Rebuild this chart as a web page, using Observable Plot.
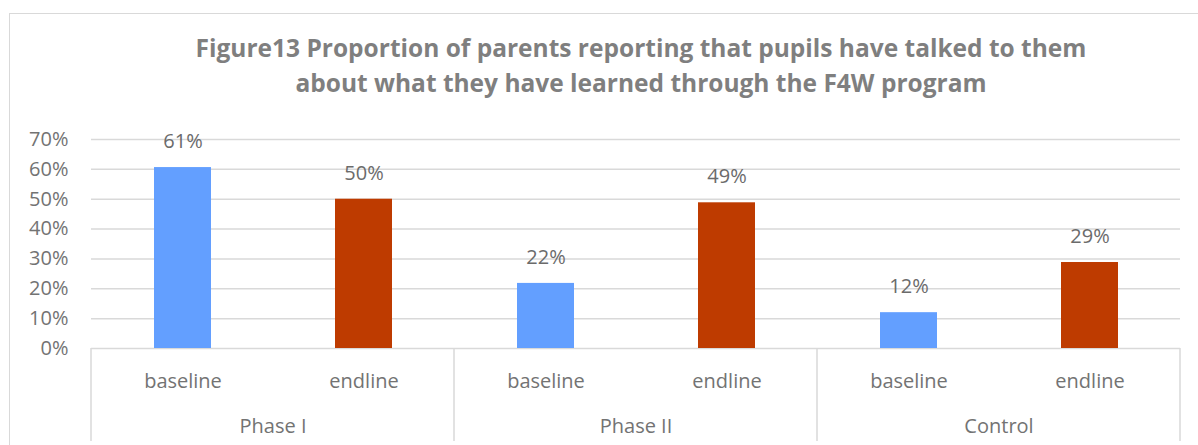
<!DOCTYPE html>
<html><head><meta charset="utf-8">
<script src="https://cdn.jsdelivr.net/npm/d3@7"></script>
<script src="https://cdn.jsdelivr.net/npm/@observablehq/plot@0.6"></script>
<style>
body{margin:0;background:#fff;}
#chart{position:relative;width:1198px;height:445px;overflow:hidden;font-family:"Open Sans",sans-serif;background:#fff;}
#border{position:absolute;left:9px;top:13px;width:1400px;height:600px;border:1.5px solid #d9d9d9;box-sizing:border-box;}
#title{position:absolute;left:0;width:1282px;top:30px;text-align:center;font-weight:700;font-size:24.5px;line-height:35px;color:#7f7f7f;}
#plot{position:absolute;left:0;top:0;}
</style>
</head><body>
<div id="chart"><div id="border"></div><div id="plot"></div>
<div id="title">Figure13 Proportion of parents reporting that pupils have talked to them<br>about what they have learned through the F4W program</div>
</div>
<script>
const groups = ["Phase I", "Phase II", "Control"];
const stages = ["baseline", "endline"];
const baselineValues = [0.606, 0.218, 0.12];
const endlineValues = [0.50, 0.488, 0.288];
const yTicks = [0, 0.1, 0.2, 0.3, 0.4, 0.5, 0.6, 0.7];
const stageColors = ["#639FFF", "#BE3B00"];

const data = [];
groups.forEach((g, i) => {
  data.push({group: g, stage: stages[0], value: baselineValues[i]});
  data.push({group: g, stage: stages[1], value: endlineValues[i]});
});
const pct = d3.format(".0%");

const plot = Plot.plot({
  width: 1198, height: 445,
  marginTop: 139, marginBottom: 97, marginLeft: 91, marginRight: 18,
  style: {fontFamily: "Open Sans", fontSize: "20px", color: "#737373", background: "transparent", overflow: "visible"},
  fx: {domain: groups, padding: 0, label: null},
  x: {domain: stages, paddingInner: 0.686, paddingOuter: 0.343, label: null},
  y: {domain: [0, 0.7], label: null},
  color: {domain: stages, range: stageColors},
  marks: [
    Plot.gridY(yTicks, {stroke: "#d9d9d9", strokeOpacity: 1, strokeWidth: 1.5}),
    Plot.barY(data, {fx: "group", x: "stage", y: "value", fill: "stage"}),
    Plot.text(data, {fx: "group", x: "stage", y: "value", text: d => pct(d.value), dy: -26, lineAnchor: "middle", fill: "#6b6b6b", fontSize: 20}),
    Plot.axisY({ticks: yTicks, tickFormat: pct, tickSize: 0, tickPadding: 23, fontSize: 20, label: null}),
    Plot.axisX({tickSize: 0, tickPadding: 25, fontSize: 20, label: null}),
    Plot.axisFx({anchor: "bottom", tickSize: 0, tickPadding: 70, fontSize: 20, label: null})
  ]
});
document.getElementById("plot").appendChild(plot);

// group separators, positioned from the fx scale
const fx = plot.scale("fx");
const y = plot.scale("y");
if (fx && fx.apply) {
  const svg = d3.select(plot.tagName.toLowerCase() === "svg" ? plot : plot.querySelector("svg"));
  const bw = fx.bandwidth;
  const xs = groups.map(g => fx.apply(g));
  xs.push(fx.apply(groups[groups.length - 1]) + bw);
  const y0 = y.apply(0);
  svg.append("g").selectAll("line").data(xs).join("line")
    .attr("x1", d => d).attr("x2", d => d)
    .attr("y1", y0).attr("y2", 441)
    .attr("stroke", "#d9d9d9").attr("stroke-width", 1.5);
}
</script>
</body></html>
